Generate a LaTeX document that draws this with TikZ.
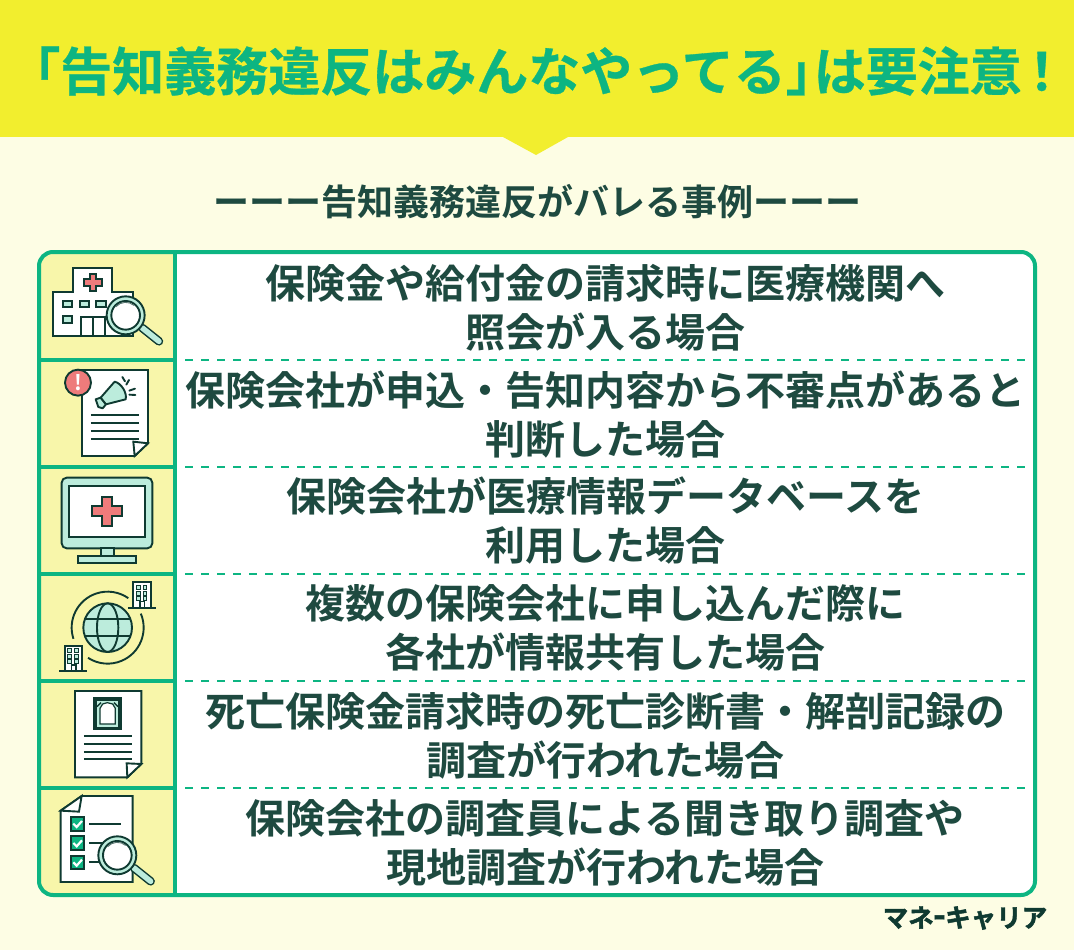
\documentclass[tikz,border=0pt]{standalone}
\usepackage{fontspec}
\newfontfamily\jp{Noto Sans CJK JP}[BoldFont={Noto Sans CJK JP Bold}]
\newfontfamily\brandfont{Noto Sans CJK JP Bold}[FakeBold=1.8]
\newfontfamily\titlefont{Noto Sans CJK JP Bold}[FakeBold=0.6]
\definecolor{bgc}{HTML}{FDFDE4}
\definecolor{bandc}{HTML}{F2EE2E}
\definecolor{greenc}{HTML}{0DB582}
\definecolor{cellc}{HTML}{F8F6AA}
\definecolor{inkc}{HTML}{1E4A40}
\definecolor{dkc}{HTML}{0F3A31}
\definecolor{mintc}{HTML}{BCECDC}
\definecolor{redc}{HTML}{EE7B7B}
\tikzset{
  rowtext/.style={text=inkc,font=\jp\bfseries\fontsize{40}{49}\selectfont,align=center,inner sep=0pt},
  icon/.style={draw=dkc,line width=1.9pt,line join=miter},
  thin line/.style={draw=dkc,line width=1.9pt},
  sep/.style={draw=greenc,line width=3.6pt},
  dashsep/.style={draw=greenc,line width=1.8pt,dash pattern=on 8pt off 8pt},
  crop a/.style={xshift=30pt,yshift=-245pt,x=0.3333pt,y=-0.3333pt},
  crop b/.style={xshift=30pt,yshift=-465pt,x=0.3333pt,y=-0.3333pt},
  crop c/.style={xshift=30pt,yshift=-680pt,x=0.3333pt,y=-0.3333pt},
}
\newcommand{\lensicon}[2]{%
  \draw[line width=8.5pt,dkc,line cap=round] (#1+50,#2+38) -- (#1+100,#2+78);
  \draw[line width=5.5pt,mintc,line cap=round] (#1+50,#2+38) -- (#1+100,#2+78);
  \draw[icon,fill=mintc] (#1,#2) circle[radius=57];
  \draw[icon,fill=white] (#1,#2) circle[radius=43];
  \draw[dkc!70,line width=0.9pt] (#1-29,#2-26) arc[start angle=222,end angle=310,radius=39];
}
\newcommand{\towericon}[2]{%
  \draw[icon,fill=white] (#1,#2) rectangle (#1+52,#2+76);
  \draw[thin line] (#1-16,#2+76) -- (#1+68,#2+76);
  \foreach \wx in {10,30}\foreach \wy in {10,28,43}
    \draw[draw=dkc,line width=1pt,fill=mintc] (#1+\wx,#2+\wy) rectangle ++(11,11);
  \draw[draw=dkc,line width=1.2pt,fill=white] (#1+20,#2+76) rectangle (#1+34,#2+58);
}
\begin{document}
\begin{tikzpicture}[x=1pt,y=-1pt]
\useasboundingbox (0,0) rectangle (1074,950);
\fill[bgc] (0,0) rectangle (1074,950);
\fill[bandc] (0,0) rectangle (1074,137);
\fill[bandc] (503,137) -- (568,137) -- (536,155) -- cycle;
\node[text=greenc,font=\titlefont\fontsize{52}{52}\selectfont,inner sep=0pt] (title) at (538,71) {「告知義務違反はみんなやってる」\kern-24pt は要注意\kern-6pt ！};
\node[text=inkc,font=\jp\bfseries\fontsize{36}{36}\selectfont,inner sep=0pt] (sub) at (537,202) {ーーー告知義務違反がバレる事例ーーー};
% table
\fill[white,rounded corners=14pt] (39,252) rectangle (1035,895);
\begin{scope}
\clip[rounded corners=14pt] (39,252) rectangle (1035,895);
\fill[cellc] (39,252) rectangle (175,895);
\end{scope}
\foreach \ry in {360,467,574,681,788}{
  \draw[sep] (39,\ry) -- (175,\ry);
  \draw[dashsep] (185,\ry) -- (1026,\ry);
}
\draw[sep,line width=4pt] (175,252) -- (175,895);
\draw[greenc,line width=4pt,rounded corners=14pt] (39,252) rectangle (1035,895);
% row texts
\node[rowtext] (r1) at (605,308) {保険金や給付金の請求時に医療機関へ\\照会が入る場合};
\node[rowtext] (r2) at (605,415) {保険会社が申込・告知内容から不審点があると\\判断した場合};
\node[rowtext] (r3) at (605,521) {保険会社が医療情報データベースを\\利用した場合};
\node[rowtext] (r4) at (605,628) {複数の保険会社に申し込んだ際に\\各社が情報共有した場合};
\node[rowtext] (r5) at (605,736) {死亡保険金請求時の死亡診断書・解剖記録の\\調査が行われた場合};
\node[rowtext] (r6) at (605,843) {保険会社の調査員による聞き取り調査や\\現地調査が行われた場合};
\node[text=dkc,font=\brandfont\fontsize{25.5}{26}\selectfont,inner sep=0pt] (brand) at (965,918) {マネ\scalebox{0.45}[1]{ー}キャリア};
% icon 1 and 2
\begin{scope}[crop a]
 \draw[icon,fill=white] (68,142) -- (130,142) -- (130,68) -- (247,68) -- (247,142) -- (310,142) -- (310,272) -- (68,272) -- cycle;
 \draw[icon,fill=redc] (179,86) -- (199,86) -- (199,102) -- (216,102) -- (216,122) -- (199,122) -- (199,138) -- (179,138) -- (179,122) -- (162,122) -- (162,102) -- (179,102) -- cycle;
 \foreach \wx in {98,149,199} \draw[icon,fill=mintc] (\wx,167) rectangle ++(29,20);
 \draw[icon,fill=mintc] (98,212) rectangle ++(29,22);
 \draw[icon,fill=white] (154,215) rectangle (224,272);
 \draw[thin line] (189,215) -- (189,272);
 \lensicon{287}{211}
 % document with alert
 \draw[icon,fill=white] (156,375) -- (354,375) -- (354,595) -- (314,633) -- (156,633) -- cycle;
 \draw[icon,fill=white] (310,590) -- (354,595) -- (314,633) -- cycle;
 \foreach \ly in {510,534,557,581} \draw[thin line] (183,\ly) -- (327,\ly);
 \draw[icon,fill=redc] (144,413) circle[radius=39];
 \node[text=white,font=\jp\bfseries\fontsize{21}{21}\selectfont,inner sep=0pt] (alert) at (144,413) {!};
 \draw[icon,fill=mintc,line join=round] (197,463) -- (212,458) -- (228,478) -- (218,490) -- (205,486) -- cycle;
 \draw[icon,fill=mintc,line join=round] (212,458) -- (254,410) .. controls (275,415) and (292,445) .. (287,463) -- (228,478) -- cycle;
 \draw[thin line,line cap=round] (277,396) -- (285,409);
 \draw[thin line,line cap=round] (297,405) -- (289,419);
 \draw[thin line,line cap=round] (315,431) -- (298,437);
 \draw[thin line,line cap=round] (316,450) -- (298,449);
\end{scope}
% icon 3 and 4
\begin{scope}[crop b]
 \draw[icon,fill=mintc,rounded corners=5pt] (95,38) rectangle (367,250);
 \draw[icon,fill=white] (117,62) rectangle (345,217);
 \draw[icon,fill=redc] (217,95) -- (247,95) -- (247,124) -- (277,124) -- (277,154) -- (247,154) -- (247,183) -- (217,183) -- (217,154) -- (187,154) -- (187,124) -- (217,124) -- cycle;
 \draw[icon,fill=mintc] (212,250) rectangle (252,274);
 \draw[icon,fill=mintc] (145,274) rectangle (317,295);
 \draw[icon,fill=mintc] (233,488) circle[radius=73];
 \draw[thin line] (233,488) ellipse[x radius=32,y radius=73];
 \draw[thin line] (165,463) -- (301,463);
 \draw[thin line] (165,513) -- (301,513);
 \draw[thin line] (233,488) ++(-198:108) arc[start angle=-198,end angle=-55,radius=108];
 \draw[thin line] (233,488) ++(-23:108) arc[start angle=-23,end angle=123,radius=108];
 \towericon{310}{352}
 \towericon{104}{542}
\end{scope}
% icon 5 and 6
\begin{scope}[crop c]
 \draw[icon,fill=white] (135,33) -- (334,33) -- (334,252) -- (292,292) -- (135,292) -- cycle;
 \draw[icon,fill=white] (290,250) -- (334,252) -- (292,292) -- cycle;
 \draw[icon,fill=dkc] (193,55) rectangle (272,148);
 \fill[mintc] (201,62) rectangle (264,140);
 \draw[icon,fill=white,line width=1.2pt] (210,132) -- (210,85) -- (218,72) -- (232,68) -- (248,72) -- (256,85) -- (256,132) -- cycle;
 \draw[dkc,line width=1.5pt] (201,80) -- (213,68);
 \draw[dkc,line width=1.5pt] (264,80) -- (252,68);
 \foreach \ly in {169,192,215,238} \draw[thin line] (162,\ly) -- (307,\ly);
 \draw[icon,fill=white] (155,348) -- (308,348) -- (308,606) -- (92,606) -- (92,392) -- cycle;
 \draw[icon,fill=white] (92,392) -- (155,348) -- (147,395) -- cycle;
 \foreach \cy in {411,469,527}{
  \draw[icon,fill=greenc] (122,\cy) rectangle ++(40,41);
  \draw[white,line width=2.2pt] (130,\cy+20) -- (140,\cy+30) -- (156,\cy+12);
 }
 \draw[thin line] (178,432) -- (272,432);
 \draw[thin line] (178,490) -- (222,490);
 \draw[thin line] (178,546) -- (212,546);
 \lensicon{262}{526}
\end{scope}
\end{tikzpicture}
\end{document}
